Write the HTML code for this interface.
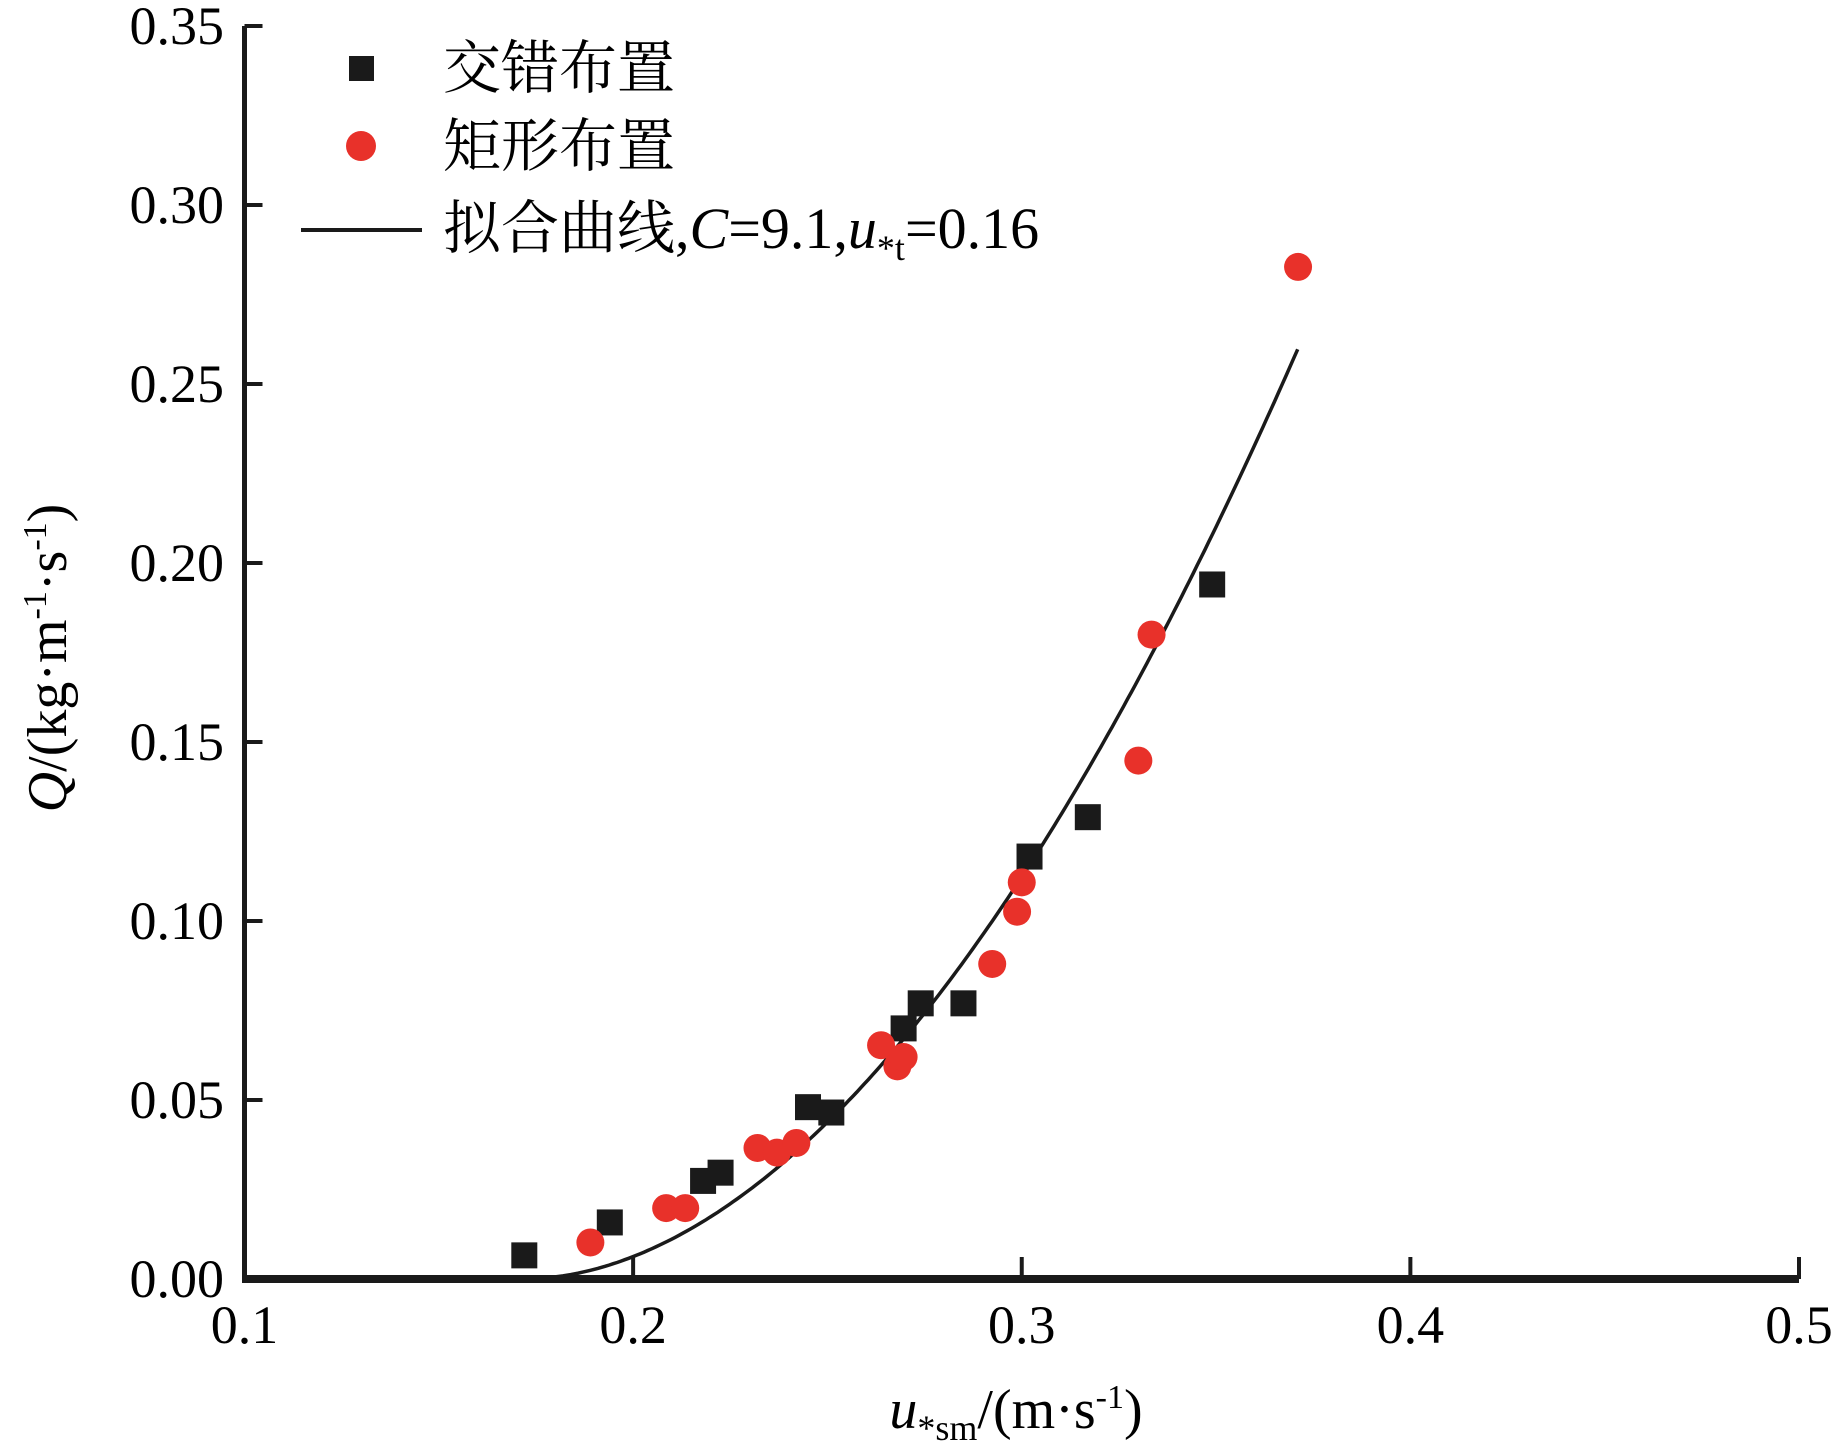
<!DOCTYPE html>
<html><head><meta charset="utf-8"><style>
html,body{margin:0;padding:0;background:#fff;}
svg{display:block;font-family:"Liberation Serif","Noto Serif CJK SC","Noto Sans CJK SC",serif;}
</style></head><body>
<svg id="chart" width="1843" height="1446" viewBox="0 0 1843 1446">
<g id="axes"></g>
<g id="curve-layer"></g>
<g id="points"></g>
<g>
  <rect x="349" y="56" width="25" height="25" fill="#1a1a1a"/>
  <text x="443" y="88" font-size="58">交错布置</text>
  <circle cx="361" cy="146" r="15" fill="#e8312a"/>
  <text x="443" y="166" font-size="58">矩形布置</text>
  <line x1="301" y1="230" x2="422" y2="230" stroke="#1a1a1a" stroke-width="4"/>
  <text x="443" y="248" font-size="58">拟合曲线,<tspan font-style="italic">C</tspan>=9.1,<tspan font-style="italic">u</tspan><tspan font-size="36" dy="12">*t</tspan><tspan dy="-12">=0.16</tspan></text>
</g>
<text x="1016" y="1428" font-size="56" text-anchor="middle"><tspan font-style="italic">u</tspan><tspan font-size="36" dy="12">*sm</tspan><tspan dy="-12">/(m·s</tspan><tspan font-size="34" dy="-20">-1</tspan><tspan dy="20">)</tspan></text>
<text transform="translate(66,658) rotate(-90)" font-size="56" text-anchor="middle"><tspan font-style="italic">Q</tspan>/(kg·m<tspan font-size="34" dy="-20">-1</tspan><tspan dy="20">·s</tspan><tspan font-size="34" dy="-20">-1</tspan><tspan dy="20">)</tspan></text>
</svg>
<script>
const xTicks=[0.1,0.2,0.3,0.4,0.5];
const xTickLabels=["0.1","0.2","0.3","0.4","0.5"];
const yTicks=[0,0.05,0.10,0.15,0.20,0.25,0.30,0.35];
const yTickLabels=["0.00","0.05","0.10","0.15","0.20","0.25","0.30","0.35"];
const staggeredX=[0.172,0.194,0.218,0.2225,0.245,0.251,0.2696,0.274,0.285,0.302,0.317,0.349];
const staggeredY=[0.0066,0.0158,0.0274,0.0297,0.048,0.0465,0.070,0.077,0.077,0.118,0.129,0.194];
const rectX=[0.189,0.2085,0.2134,0.232,0.237,0.242,0.2638,0.268,0.2696,0.2924,0.2988,0.300,0.330,0.3334,0.3711];
const rectY=[0.0102,0.0198,0.0198,0.0366,0.0353,0.038,0.0653,0.0594,0.062,0.088,0.1026,0.1108,0.1448,0.180,0.2827];
const fitStart=[0.172];
const fitEnd=[0.371];
const fitCoef=[5.58];
const fitExp=[1.9];

const NS="http://www.w3.org/2000/svg";
const X0=244.5,X1=1799,Y0=1279,Y1=26;
function sx(v){return X0+(v-0.1)/0.4*(X1-X0);}
function sy(v){return Y0-(v/0.35)*(Y0-Y1);}
function mk(tag,attrs,parent){const e=document.createElementNS(NS,tag);for(const k in attrs)e.setAttribute(k,attrs[k]);parent.appendChild(e);return e;}
const axes=document.getElementById('axes');
let l=mk('line',{x1:X0,y1:Y1,x2:X0,y2:Y0+4,stroke:'#1a1a1a','stroke-width':5},axes);


l=mk('line',{x1:X0-2,y1:Y0,x2:X1,y2:Y0,stroke:'#1a1a1a','stroke-width':8},axes);


xTicks.forEach((v,i)=>{
  const t=mk('line',{x1:sx(v),y1:Y0,x2:sx(v),y2:Y0-22,stroke:'#1a1a1a','stroke-width':4},axes);
  
  
  const tx=mk('text',{x:sx(v),y:Y0+64,'font-size':54,'text-anchor':'middle'},axes);
  tx.textContent=xTickLabels[i];
  
  
});
yTicks.forEach((v,i)=>{
  const t=mk('line',{x1:X0,y1:sy(v),x2:X0+18,y2:sy(v),stroke:'#1a1a1a','stroke-width':4},axes);
  
  
  const tx=mk('text',{x:224,y:sy(v)+18,'font-size':54,'text-anchor':'end'},axes);
  tx.textContent=yTickLabels[i];
  
  
});
const cl=document.getElementById('curve-layer');
let d='';
for(let k=0;k<=200;k++){
  const u=fitStart[0]+(fitEnd[0]-fitStart[0])*k/200;
  const q=fitCoef[0]*Math.pow(u-fitStart[0],fitExp[0]);
  d+=(k?'L':'M')+sx(u).toFixed(1)+','+sy(q).toFixed(1);
}
const p=mk('path',{d:d,fill:'none',stroke:'#1a1a1a','stroke-width':3.5},cl);


const pts=document.getElementById('points');
staggeredX.forEach((v,i)=>{
  const r=mk('rect',{x:sx(v)-13,y:sy(staggeredY[i])-13,width:26,height:26,fill:'#1a1a1a'},pts);
  
  
});
rectX.forEach((v,i)=>{
  const c=mk('circle',{cx:sx(v),cy:sy(rectY[i]),r:14,fill:'#e8312a'},pts);
  
  
});
</script>
</body></html>
